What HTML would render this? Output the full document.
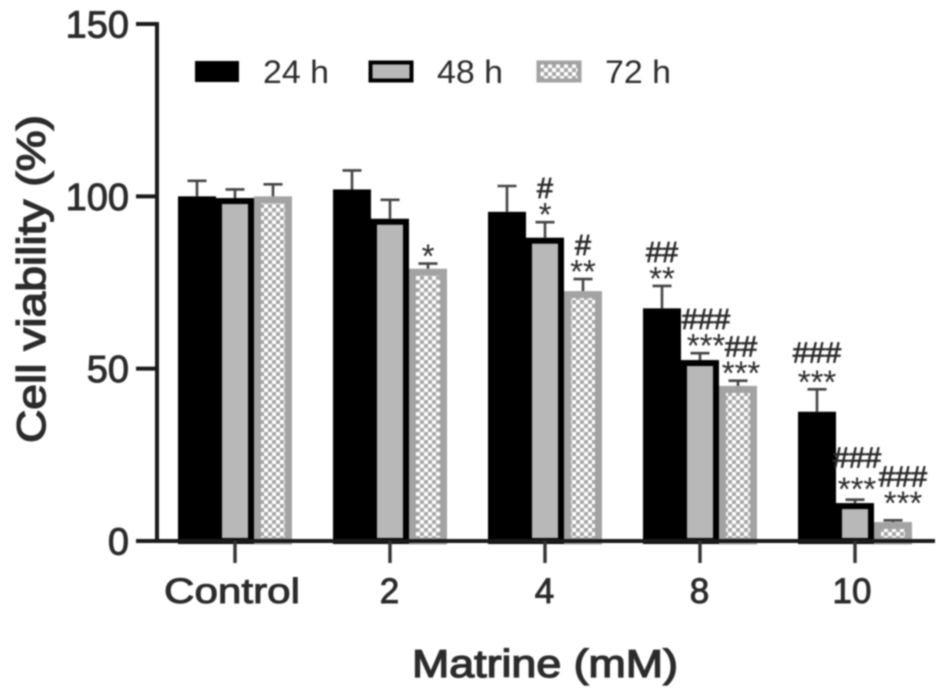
<!DOCTYPE html>
<html>
<head>
<meta charset="utf-8">
<style>
html,body{margin:0;padding:0;background:#fff;width:945px;height:697px;overflow:hidden}
svg{display:block;filter:blur(0.7px)}
text{font-family:"Liberation Sans",sans-serif;fill:#2b2b2b}
</style>
</head>
<body>
<svg id="chart" xmlns="http://www.w3.org/2000/svg" width="945" height="697" viewBox="0 0 945 697">
<defs>
<pattern id="dots" width="8" height="8" patternUnits="userSpaceOnUse">
<rect width="8" height="8" fill="#fff"/>
<rect x="0" y="0" width="4" height="4" fill="#a6a6a6"/>
<rect x="4" y="4" width="4" height="4" fill="#a6a6a6"/>
</pattern>
</defs>
<g id="bars"></g>
<g id="errors"></g>
<g id="marks"></g>
<g id="axes"></g>
<g id="legend"></g>
<text transform="translate(45,279) rotate(-90)" text-anchor="middle" font-size="40" textLength="328" lengthAdjust="spacingAndGlyphs" stroke="#2b2b2b" stroke-width="1.3">Cell viability (%)</text>
<text x="545" y="677" text-anchor="middle" font-size="39" textLength="266" lengthAdjust="spacingAndGlyphs" stroke="#2b2b2b" stroke-width="1.3">Matrine (mM)</text>
</svg>
<script>
const categories = ["Control", "2", "4", "8", "10"];
const seriesNames = ["24 h", "48 h", "72 h"];
const values24 = [100, 102, 95.5, 67.5, 37.5];
const values48 = [99.5, 93.5, 88, 52.5, 11];
const values72 = [100, 79, 72.5, 45, 5.5];
const errors24 = [4.5, 5.5, 7.5, 6.5, 6.5];
const errors48 = [2.5, 5.5, 4.5, 2, 1];
const errors72 = [3.5, 1.5, 3.5, 1.5, 0.5];
const stars24 = ["", "", "", "**", "***"];
const stars48 = ["", "", "*", "***", "***"];
const stars72 = ["", "*", "**", "***", "***"];
const hashes24 = ["", "", "", "##", "###"];
const hashes48 = ["", "", "#", "###", "###"];
const hashes72 = ["", "", "#", "##", "###"];
const yTicks = [0, 50, 100, 150];

const NS = "http://www.w3.org/2000/svg";
const yZero = 541, yTop = 24, yMax = 150;
const groupStart = 235, groupStep = 155, barW = 38;
const y = v => yZero - (v / yMax) * (yZero - yTop);
const groupX = g => groupStart + groupStep * g;
const barLeft = (g, s) => groupX(g) - barW * 1.5 + barW * s;
const allValues = [values24, values48, values72];
const allErrors = [errors24, errors48, errors72];
const allStars = [stars24, stars48, stars72];
const allHashes = [hashes24, hashes48, hashes72];
const fills = ["#000", "#b8b8b8", "url(#dots)"];
const strokes = ["#000", "#000", "#a3a3a3"];
const strokeW = [6, 6, 7];

function mk(parent, tag, attrs, txt) {
  const el = document.createElementNS(NS, tag);
  for (const k in attrs) el.setAttribute(k, attrs[k]);
  if (txt !== undefined) el.textContent = txt;
  parent.appendChild(el);
  return el;
}
const gBars = document.getElementById("bars");
const gErr = document.getElementById("errors");
const gMarks = document.getElementById("marks");
const gAxes = document.getElementById("axes");
const gLegend = document.getElementById("legend");

/* error bars first so the bars sit over their stems */
allValues.forEach((vals, s) => {
  vals.forEach((v, g) => {
    const cx = barLeft(g, s) + barW / 2;
    const top = y(v + allErrors[s][g]);
    const stem = mk(gErr, "line", {x1: cx, x2: cx, y1: y(v), y2: top, stroke: "#444", "stroke-width": 2.6});
    
    
    const cap = mk(gErr, "line", {x1: cx - 9.5, x2: cx + 9.5, y1: top, y2: top, stroke: "#444", "stroke-width": 2.6});
    
    
  });
});

allValues.forEach((vals, s) => {
  vals.forEach((v, g) => {
    const inset = strokeW[s] / 2;
    const bar = mk(gBars, "rect", {
      x: barLeft(g, s) + inset, y: y(v) + inset,
      width: barW - inset * 2, height: Math.max(0, yZero - y(v) - inset),
      fill: fills[s], stroke: strokes[s], "stroke-width": strokeW[s]
    });
    
    
  });
});

/* label placement tweaks, keyed "group-series" */
const nudgeX = {"3-1": 6, "4-2": 10, "3-2": 3, "4-1": 2};
const liftStar = {"4-1": 3, "4-2": 10};
const liftHash = {"4-0": 3, "4-1": 8, "4-2": 10};

allStars.forEach((row, s) => {
  row.forEach((txt, g) => {
    if (!txt) return;
    const key = g + "-" + s;
    const cx = barLeft(g, s) + barW / 2 + (nudgeX[key] || 0);
    const top = y(allValues[s][g] + allErrors[s][g]);
    const star = mk(gMarks, "text", {
      x: cx, y: top - 14 - (liftStar[key] || 0) + 18,
      "text-anchor": "middle", "font-size": 33
    }, txt);
    
    
    const hashText = allHashes[s][g];
    if (hashText) {
      const hash = mk(gMarks, "text", {
        x: cx, y: top - 34 - (liftHash[key] || 0) + 10,
        "text-anchor": "middle", "font-size": 29,
        stroke: "#2b2b2b", "stroke-width": 0.8
      }, hashText);
      
      
    }
  });
});

/* axes */
const yAxis = mk(gAxes, "line", {x1: 157, x2: 157, y1: yTop - 2, y2: yZero + 2, stroke: "#1a1a1a", "stroke-width": 4});


const xAxis = mk(gAxes, "line", {x1: 136, x2: 935, y1: yZero, y2: yZero, stroke: "#1a1a1a", "stroke-width": 4});



yTicks.forEach(t => {
  const tick = mk(gAxes, "line", {x1: 136, x2: 157, y1: y(t), y2: y(t), stroke: "#1a1a1a", "stroke-width": 4});
  
  
  const label = mk(gAxes, "text", {x: 129, y: y(t) + 13.5, "text-anchor": "end", "font-size": 38, stroke: "#2b2b2b", "stroke-width": 0.9}, String(t));
  
  
});

categories.forEach((c, g) => {
  const cx = groupX(g);
  const tick = mk(gAxes, "line", {x1: cx, x2: cx, y1: yZero, y2: 563, stroke: "#333", "stroke-width": 3.4});
  
  
  const wide = c.length > 1;
  const attrs = {x: wide ? cx - 3 : cx - 0.5, y: 603, "text-anchor": "middle", "font-size": 35, stroke: "#2b2b2b", "stroke-width": 0.9};
  if (c === "Control") { attrs.textLength = 136; attrs.lengthAdjust = "spacingAndGlyphs"; }
  const label = mk(gAxes, "text", attrs, c);
  
  
});

/* legend */
const legendStep = [195, 369, 537];
seriesNames.forEach((name, s) => {
  const lx = legendStep[s];
  const swatch = mk(gLegend, "rect", {
    x: lx + 1.5, y: 62.5, width: 41, height: 18,
    fill: fills[s], stroke: strokes[s], "stroke-width": s === 0 ? 3 : 4
  });
  
  
  const label = mk(gLegend, "text", {x: lx + 68, y: 83, "font-size": 32, textLength: 66, lengthAdjust: "spacingAndGlyphs", fill: "#444"}, name);
  
  
});
</script>
</body>
</html>
